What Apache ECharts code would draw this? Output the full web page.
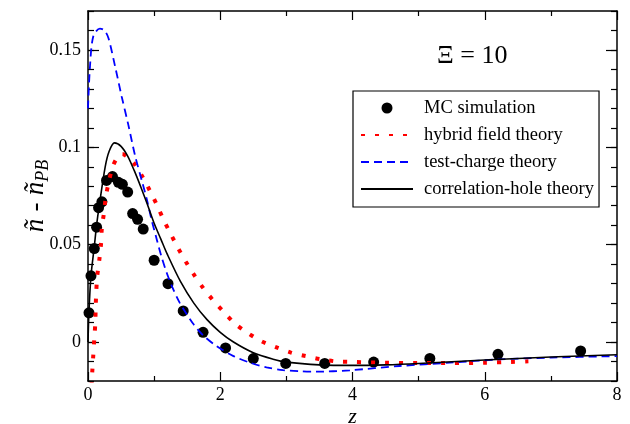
<!DOCTYPE html>
<html>
<head>
<meta charset="utf-8">
<script src="https://cdn.jsdelivr.net/npm/echarts@6/dist/echarts.min.js"></script>
<style>html,body{margin:0;padding:0;background:#fff}#c{width:630px;height:424px}</style>
</head>
<body>
<div id="c"></div>
<script>
// ---- data ----
const mcX = [0.015, 0.045, 0.095, 0.13, 0.16, 0.21, 0.28, 0.37, 0.46, 0.52, 0.60, 0.675, 0.75, 0.835, 1.0, 1.21, 1.44, 1.74, 2.08, 2.5, 2.99, 3.58, 4.32, 5.17, 6.2, 7.45];
const mcY = [0.015, 0.034, 0.048, 0.059, 0.069, 0.072, 0.083, 0.085, 0.082, 0.081, 0.077, 0.066, 0.063, 0.058, 0.042, 0.030, 0.016, 0.005, -0.003, -0.0085, -0.011, -0.011, -0.0103, -0.0084, -0.0063, -0.0046];

const hybridX = [0.04, 0.065, 0.08, 0.095, 0.11, 0.116, 0.125, 0.14, 0.17, 0.196, 0.21, 0.24, 0.27, 0.317, 0.38, 0.45, 0.52, 0.6, 0.70, 0.826, 0.94, 1.04, 1.14, 1.25, 1.36, 1.48, 1.6, 1.74, 1.89, 2.05, 2.22, 2.41, 2.62, 2.84, 3.07, 3.29, 3.53, 3.77, 4.0, 4.5, 5.0, 5.5, 6.0, 6.4, 6.66];
const hybridY = [-0.03, -0.0149, -0.0067, 0.0014, 0.0096, 0.0176, 0.026, 0.0339, 0.0419, 0.050, 0.0587, 0.066, 0.0746, 0.0826, 0.0906, 0.095, 0.0966, 0.095, 0.0916, 0.0848, 0.0774, 0.0706, 0.063, 0.0556, 0.0484, 0.0412, 0.0347, 0.0279, 0.0215, 0.0156, 0.0096, 0.0048, 0.0005, -0.0026, -0.0054, -0.0072, -0.0089, -0.0100, -0.0102, -0.0106, -0.0108, -0.0108, -0.0106, -0.0102, -0.0099];

const testX = [0, 0.03, 0.08, 0.18, 0.25, 0.31, 0.41, 0.51, 0.61, 0.71, 0.81, 0.89, 0.96, 1.04, 1.11, 1.19, 1.29, 1.39, 1.49, 1.6, 1.74, 1.94, 2.2, 2.45, 2.7, 2.95, 3.2, 3.45, 3.96, 4.71, 5.47, 6.22, 7.0, 8.0];
const testY = [0.12, 0.1415, 0.157, 0.161, 0.160, 0.156, 0.1415, 0.126, 0.1115, 0.096, 0.0834, 0.0732, 0.063, 0.0527, 0.044, 0.0356, 0.027, 0.020, 0.0145, 0.009, 0.0035, -0.002, -0.0072, -0.0106, -0.013, -0.0144, -0.015, -0.0152, -0.0145, -0.0123, -0.0106, -0.0089, -0.008, -0.0072];

const corrX = [0, 0.015, 0.045, 0.095, 0.13, 0.17, 0.26, 0.32, 0.4, 0.5, 0.6, 0.7, 0.8, 0.9, 1.0, 1.1, 1.2, 1.4, 1.6, 1.8, 2.0, 2.2, 2.5, 2.8, 3.0, 3.5, 4.0, 4.5, 5.0, 6.0, 7.0, 8.0];
const corrY = [0, 0.016, 0.034, 0.049, 0.060, 0.070, 0.090, 0.098, 0.1023, 0.1005, 0.0955, 0.088, 0.0795, 0.0705, 0.061, 0.053, 0.045, 0.031, 0.020, 0.0115, 0.005, 0.0, -0.0055, -0.0088, -0.0103, -0.0117, -0.012, -0.0117, -0.011, -0.0092, -0.0077, -0.0065];

const seriesNames = ['MC simulation', 'hybrid field theory', 'test-charge theory', 'correlation-hole theory'];
const xTicks = [0, 2, 4, 6, 8];
const yMajorTicks = [0, 0.05, 0.1, 0.15];
const annotation = 'Ξ = 10';

const pairs = (xs, ys) => xs.map((x, i) => [x, ys[i]]);
const FONT = '"Liberation Serif", "Times New Roman", serif';
const GRID = { left: 88, right: 13, top: 11, bottom: 43, containLabel: false, outerBoundsMode: 'none' };

const axisLine = { show: true, onZero: false, lineStyle: { color: '#000', width: 1.5 } };
const tickLine = { color: '#000', width: 1.2 };

function yMinorAxis(pos) {
  return { gridIndex: 0, type: 'value', position: pos, min: -0.02, max: 0.17, interval: 0.01,
    axisLine: axisLine, splitLine: { show: false },
    axisTick: { show: true, inside: true, length: 6, lineStyle: tickLine },
    axisLabel: pos === 'left'
      ? { show: true, customValues: yMajorTicks, fontFamily: FONT, fontSize: 18, color: '#000', margin: 7 }
      : { show: false },
    name: pos === 'left' ? '{n|ñ} {n|-} {n|ñ}{s|PB}' : '',
    nameLocation: 'middle', nameGap: 36, nameRotate: 90, nameMoveOverlap: false,
    nameTextStyle: { fontSize: 26, rich: {
      n: { fontFamily: FONT, fontStyle: 'italic', fontSize: 27, color: '#000', verticalAlign: 'top', lineHeight: 30 },
      s: { fontFamily: FONT, fontStyle: 'italic', fontSize: 18, color: '#000', verticalAlign: 'bottom', lineHeight: 24, padding: [21, 0, 0, 0] }
    } }
  };
}
function yMajorAxis(pos) {
  return { gridIndex: 1, type: 'value', position: pos, min: -0.02, max: 0.17,
    axisLine: { show: false, onZero: false }, splitLine: { show: false }, axisLabel: { show: false },
    axisTick: { show: true, inside: true, length: 11, customValues: yMajorTicks, lineStyle: tickLine }
  };
}

function xAxis(pos) {
  return { gridIndex: 0, type: 'value', position: pos, min: 0, max: 8, interval: 2,
    axisLine: axisLine, splitLine: { show: false },
    axisTick: { show: true, inside: true, length: 9, lineStyle: tickLine },
    minorTick: { show: true, splitNumber: 2, length: 5, lineStyle: tickLine },
    axisLabel: pos === 'bottom'
      ? { show: true, customValues: xTicks, fontFamily: FONT, fontSize: 18, color: '#000', margin: 5 }
      : { show: false },
    name: pos === 'bottom' ? 'z' : '', nameLocation: 'middle', nameGap: 25, nameMoveOverlap: false,
    nameTextStyle: { fontFamily: FONT, fontStyle: 'italic', fontSize: 22, color: '#000' }
  };
}

const chart = echarts.init(document.getElementById('c'), null, { renderer: 'canvas' });
chart.setOption({
  animation: false,
  backgroundColor: '#fff',
  grid: [Object.assign({}, GRID), Object.assign({}, GRID)],
  xAxis: [xAxis('bottom'), xAxis('top'),
    { gridIndex: 1, type: 'value', min: 0, max: 8, show: false }],
  yAxis: [yMinorAxis('left'), yMinorAxis('right'), yMajorAxis('left'), yMajorAxis('right')],
  legend: {
    orient: 'vertical', left: 353, top: 91,
    data: [
      { name: seriesNames[0] },
      { name: seriesNames[1], itemStyle: { opacity: 0 } },
      { name: seriesNames[2], itemStyle: { opacity: 0 } },
      { name: seriesNames[3], itemStyle: { opacity: 0 } }
    ],
    backgroundColor: '#fff', borderColor: '#000', borderWidth: 1.2, borderRadius: 0,
    padding: [7, 5, 8, 7],
    itemWidth: 52, itemHeight: 11, itemGap: 7,
    textStyle: { fontFamily: FONT, fontSize: 18.5, color: '#000', lineHeight: 20, padding: [0, 0, 0, 6] }
  },
  graphic: [{
    type: 'text', left: 437, top: 43,
    style: { text: annotation, font: '26px ' + FONT, fill: '#000' }
  }],
  series: [
    { name: seriesNames[0], type: 'scatter', xAxisIndex: 0, yAxisIndex: 0, data: pairs(mcX, mcY), symbol: 'circle', symbolSize: 11,
      itemStyle: { color: '#000', opacity: 1 }, z: 2 },
    { name: seriesNames[1], type: 'line', xAxisIndex: 0, yAxisIndex: 0, data: pairs(hybridX, hybridY), symbol: 'none', smooth: 0.3,
      lineStyle: { color: '#ff0000', width: 4, type: [4, 10], cap: 'butt' }, itemStyle: { color: '#ff0000' }, z: 3 },
    { name: seriesNames[2], type: 'line', xAxisIndex: 0, yAxisIndex: 0, data: pairs(testX, testY), symbol: 'none', smooth: 0.3,
      lineStyle: { color: '#0000ff', width: 1.8, type: [8, 5] }, itemStyle: { color: '#0000ff' }, z: 4 },
    { name: seriesNames[3], type: 'line', xAxisIndex: 0, yAxisIndex: 0, data: pairs(corrX, corrY), symbol: 'none', smooth: 0.3,
      lineStyle: { color: '#000', width: 1.6, type: 'solid' }, itemStyle: { color: '#000' }, z: 5 }
  ]
});
</script>
</body>
</html>
